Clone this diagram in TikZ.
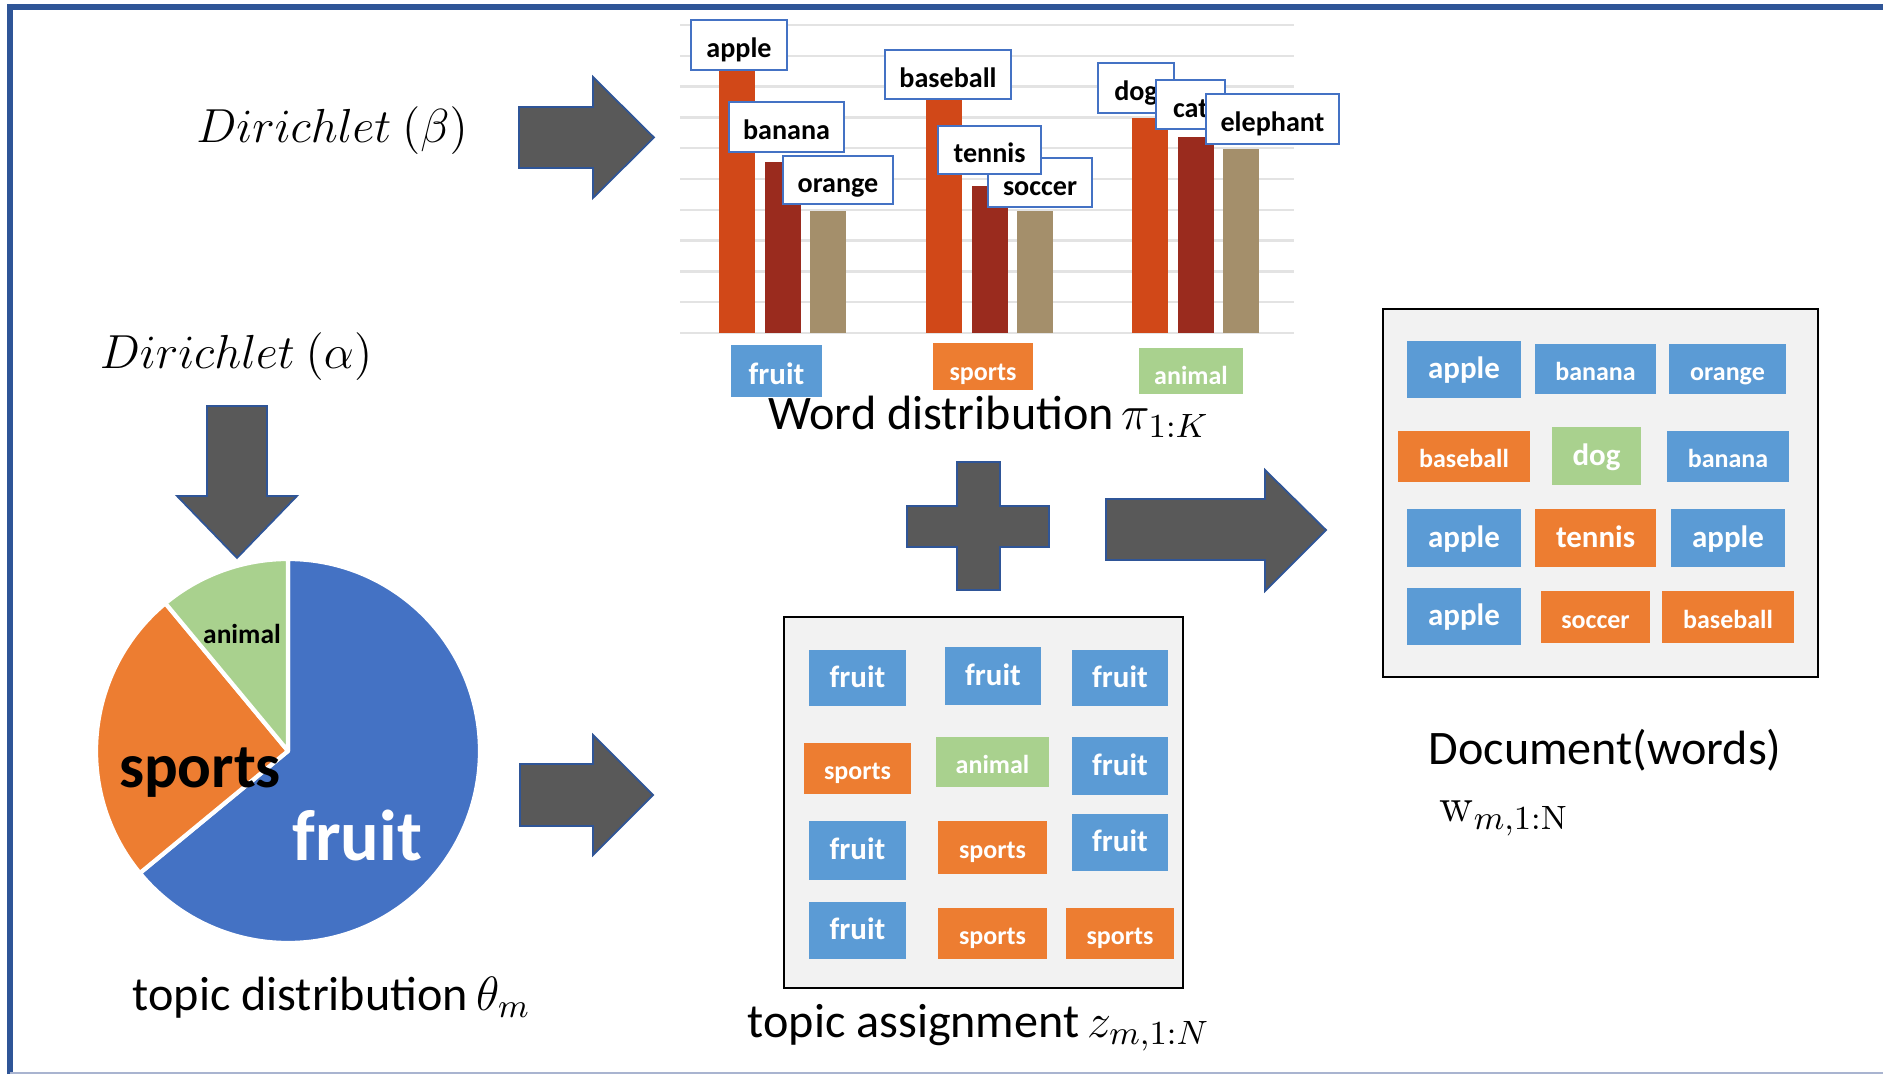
\RequirePackage{fix-cm}
\documentclass[tikz,border=0pt]{standalone}
\usepackage[no-math]{fontspec}
\setmainfont{Carlito}
\definecolor{framedark}{HTML}{2F5597}
\definecolor{framelight}{HTML}{A9B4D0}
\definecolor{arrowgray}{HTML}{595959}
\definecolor{edgeblue}{HTML}{2F5597}
\definecolor{pieblue}{HTML}{4472C4}
\definecolor{pieorange}{HTML}{ED7D31}
\definecolor{piegreen}{HTML}{A9D18E}
\definecolor{tokblue}{HTML}{5B9BD5}
\definecolor{tokorange}{HTML}{ED7D31}
\definecolor{tokgreen}{HTML}{A9D18E}
\definecolor{barred}{HTML}{D14818}
\definecolor{bardark}{HTML}{9A2B1E}
\definecolor{bartan}{HTML}{A48F6B}
\definecolor{labelblue}{HTML}{4472C4}
\definecolor{boxgray}{HTML}{F2F2F2}
\definecolor{gridgray}{HTML}{E3E3E3}
\tikzset{
  chartline/.style={draw=gridgray,line width=0.7pt},
  blockarrow/.style={fill=arrowgray,draw=edgeblue,line width=0.5pt},
  wordlabel/.style={rectangle,draw=labelblue,line width=0.8pt,fill=white,inner sep=0pt,text height=0.9em,text depth=0.18em,font=\bfseries\fontsize{8}{9}\selectfont},
  token/.style={rectangle,inner sep=0pt,text=white,text height=0.85em,text depth=0.2em,font=\bfseries\fontsize{7.4}{9}\selectfont},
  bigtoken/.style={token,text height=0.75em,text depth=0.21em,font=\bfseries\fontsize{8.8}{10}\selectfont},
  catlabel/.style={text height=0.95em,text depth=0.18em},
  docframe/.style={rectangle,draw=black,line width=0.8pt,fill=boxgray,inner sep=0pt},
  caption/.style={anchor=base west,inner sep=0pt,font=\fontsize{13.7}{16}\selectfont},
  slice/.style={draw=white,line width=1.2pt,line join=round}
}

\begin{document}
\begin{tikzpicture}
        \useasboundingbox (0,0) rectangle (18.83,10.74);
        \draw[framedark,line width=1.7pt] (0.10,0) -- (0.10,10.67) -- (18.83,10.67);
        \draw[framelight,line width=0.6pt] (0.10,0.01) -- (18.83,0.01);
        \node[inner sep=0pt,font=\fontsize{13.6}{15}\selectfont] (dirb) at (3.32,9.43) {$Dirichlet\ (\beta)$};
        \node[inner sep=0pt,font=\fontsize{13.6}{15}\selectfont] (dira) at (2.36,7.17) {$Dirichlet\ (\alpha)$};
        \draw[blockarrow] (5.19,9.06) -- (5.93,9.06) -- (5.93,8.76) -- (6.54,9.365) -- (5.93,9.97) -- (5.93,9.67) -- (5.19,9.67) -- cycle;
        \draw[blockarrow] (2.07,6.68) -- (2.07,5.78) -- (1.77,5.78) -- (2.37,5.16) -- (2.97,5.78) -- (2.67,5.78) -- (2.67,6.68) -- cycle;
        \draw[blockarrow] (5.20,2.48) -- (5.93,2.48) -- (5.93,2.19) -- (6.53,2.79) -- (5.93,3.39) -- (5.93,3.10) -- (5.20,3.10) -- cycle;
        \draw[blockarrow] (11.06,5.14) -- (12.65,5.14) -- (12.65,4.83) -- (13.26,5.44) -- (12.65,6.04) -- (12.65,5.75) -- (11.06,5.75) -- cycle;
        \draw[blockarrow] (9.57,6.12) -- (10.00,6.12) -- (10.00,5.68) -- (10.49,5.68) -- (10.49,5.27) -- (10.00,5.27) -- (10.00,4.84) -- (9.57,4.84) -- (9.57,5.27) -- (9.07,5.27) -- (9.07,5.68) -- (9.57,5.68) -- cycle;
        % topic distribution
        \coordinate (pc) at (2.88,3.23);
        \filldraw[slice,fill=pieblue] (pc) -- ++(90:1.92) arc[start angle=90,end angle=-140.5,radius=1.92] -- cycle;
        \filldraw[slice,fill=pieorange] (pc) -- ++(219.5:1.92) arc[start angle=219.5,end angle=129.7,radius=1.92] -- cycle;
        \filldraw[slice,fill=piegreen] (pc) -- ++(129.7:1.92) arc[start angle=129.7,end angle=90,radius=1.92] -- cycle;
        \node[anchor=base,inner sep=0pt,font=\bfseries\fontsize{7.8}{9}\selectfont] (panimal) at (2.42,4.30) {animal};
        \node[anchor=base,inner sep=0pt,font=\bfseries\fontsize{17.9}{20}\selectfont] (psports) at (2.00,2.86) {sports};
        \node[anchor=base,inner sep=0pt,text=white,font=\bfseries\fontsize{20.5}{23}\selectfont] (pfruit) at (3.575,2.13) {fruit};
        \node[caption] (tdist) at (1.32,0.64) {topic distribution\,$\theta_m$};
        % word distribution
        \foreach \i in {0,...,10} \draw[chartline] (6.80,7.41+0.308*\i) -- (12.94,7.41+0.308*\i);
        \fill[barred] (7.19,7.41) rectangle (7.55,10.08);
        \fill[bardark] (7.645,7.41) rectangle (8.005,9.12);
        \fill[bartan] (8.10,7.41) rectangle (8.46,8.63);
        \fill[barred] (9.26,7.41) rectangle (9.62,9.77);
        \fill[bardark] (9.715,7.41) rectangle (10.075,8.88);
        \fill[bartan] (10.17,7.41) rectangle (10.53,8.63);
        \fill[barred] (11.32,7.41) rectangle (11.68,9.56);
        \fill[bardark] (11.775,7.41) rectangle (12.135,9.37);
        \fill[bartan] (12.23,7.41) rectangle (12.59,9.25);
        \node[wordlabel,minimum width=0.96cm,minimum height=0.50cm] (lapple) at (7.39,10.29) {apple};
        \node[wordlabel,minimum width=1.15cm,minimum height=0.50cm] (lbanana) at (7.865,9.47) {banana};
        \node[wordlabel,minimum width=1.10cm,minimum height=0.48cm] (lorange) at (8.38,8.94) {orange};
        \node[wordlabel,minimum width=1.26cm,minimum height=0.49cm] (lbaseball) at (9.48,9.995) {baseball};
        \node[wordlabel,minimum width=1.04cm,minimum height=0.49cm] (lsoccer) at (10.40,8.915) {soccer};
        \node[wordlabel,minimum width=1.03cm,minimum height=0.48cm] (ltennis) at (9.895,9.24) {tennis};
        \node[wordlabel,minimum width=0.76cm,minimum height=0.50cm] (ldog) at (11.36,9.86) {dog};
        \node[wordlabel,minimum width=0.69cm,minimum height=0.49cm] (lcat) at (11.905,9.695) {cat};
        \node[wordlabel,minimum width=1.33cm,minimum height=0.50cm] (lelephant) at (12.725,9.55) {elephant};
        \node[bigtoken,catlabel,fill=tokblue,minimum width=0.91cm,minimum height=0.52cm] (cfruit) at (7.765,7.03) {fruit};
        \node[token,catlabel,fill=tokorange,minimum width=1.00cm,minimum height=0.47cm] (csports) at (9.83,7.075) {sports};
        \node[token,catlabel,fill=tokgreen,minimum width=1.04cm,minimum height=0.46cm] (canimal) at (11.91,7.03) {animal};
        \node[caption] (wdist) at (7.68,6.44) {Word distribution\,$\pi_{1:K}$};
        % topic assignment
        \node[docframe,minimum width=3.99cm,minimum height=3.71cm] (zbox) at (9.835,2.715) {};
        \node[bigtoken,fill=tokblue,minimum width=0.97cm,minimum height=0.56cm] (z1) at (8.575,3.96) {fruit};
        \node[bigtoken,fill=tokblue,minimum width=0.96cm,minimum height=0.58cm] (z2) at (9.93,3.98) {fruit};
        \node[bigtoken,fill=tokblue,minimum width=0.96cm,minimum height=0.56cm] (z3) at (11.20,3.96) {fruit};
        \node[token,fill=tokorange,minimum width=1.07cm,minimum height=0.51cm] (z4) at (8.575,3.055) {sports};
        \node[token,fill=tokgreen,minimum width=1.13cm,minimum height=0.50cm] (z5) at (9.925,3.12) {animal};
        \node[bigtoken,fill=tokblue,minimum width=0.96cm,minimum height=0.58cm] (z6) at (11.20,3.08) {fruit};
        \node[bigtoken,fill=tokblue,minimum width=0.97cm,minimum height=0.59cm] (z7) at (8.575,2.235) {fruit};
        \node[token,fill=tokorange,minimum width=1.09cm,minimum height=0.53cm] (z8) at (9.925,2.265) {sports};
        \node[bigtoken,fill=tokblue,minimum width=0.96cm,minimum height=0.57cm] (z9) at (11.20,2.315) {fruit};
        \node[bigtoken,fill=tokblue,minimum width=0.97cm,minimum height=0.57cm] (z10) at (8.575,1.435) {fruit};
        \node[token,fill=tokorange,minimum width=1.09cm,minimum height=0.51cm] (z11) at (9.925,1.405) {sports};
        \node[token,fill=tokorange,minimum width=1.08cm,minimum height=0.51cm] (z12) at (11.20,1.405) {sports};
        \node[caption] (tassign) at (7.47,0.37) {topic assignment\,$z_{m,1:N}$};
        % document
        \node[docframe,minimum width=4.35cm,minimum height=3.68cm] (wbox) at (16.005,5.81) {};
        \node[bigtoken,fill=tokblue,minimum width=1.14cm,minimum height=0.57cm] (w1) at (14.64,7.045) {apple};
        \node[token,fill=tokblue,minimum width=1.21cm,minimum height=0.50cm] (w2) at (15.955,7.05) {banana};
        \node[token,fill=tokblue,minimum width=1.17cm,minimum height=0.50cm] (w3) at (17.275,7.05) {orange};
        \node[token,fill=tokorange,minimum width=1.32cm,minimum height=0.51cm] (w4) at (14.64,6.175) {baseball};
        \node[bigtoken,fill=tokgreen,minimum width=0.89cm,minimum height=0.58cm] (w5) at (15.965,6.18) {dog};
        \node[token,fill=tokblue,minimum width=1.22cm,minimum height=0.51cm] (w6) at (17.28,6.175) {banana};
        \node[bigtoken,fill=tokblue,minimum width=1.14cm,minimum height=0.58cm] (w7) at (14.64,5.36) {apple};
        \node[bigtoken,fill=tokorange,minimum width=1.21cm,minimum height=0.58cm] (w8) at (15.955,5.36) {tennis};
        \node[bigtoken,fill=tokblue,minimum width=1.14cm,minimum height=0.58cm] (w9) at (17.28,5.36) {apple};
        \node[bigtoken,fill=tokblue,minimum width=1.14cm,minimum height=0.57cm] (w10) at (14.64,4.575) {apple};
        \node[token,fill=tokorange,minimum width=1.09cm,minimum height=0.52cm] (w11) at (15.955,4.57) {soccer};
        \node[token,fill=tokorange,minimum width=1.32cm,minimum height=0.52cm] (w12) at (17.28,4.57) {baseball};
        \node[caption] (dwords) at (14.28,3.09) {Document(words)};
        \node[caption] (wsym) at (14.39,2.52) {$\mathrm{w}_{m,1:\mathrm{N}}$};
      \end{tikzpicture}
\end{document}
